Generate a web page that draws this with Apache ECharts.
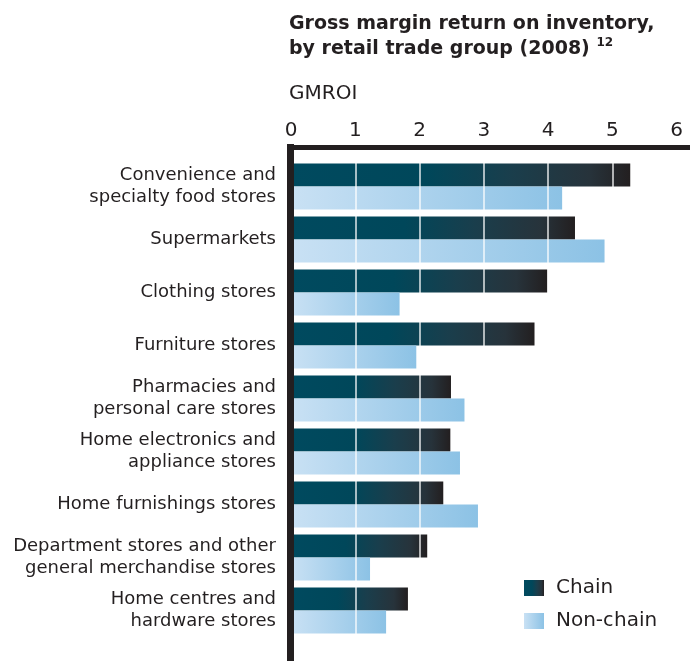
<!DOCTYPE html>
<html>
<head>
<meta charset="utf-8">
<script src="https://cdn.jsdelivr.net/npm/echarts@6/dist/echarts.min.js"></script>
<style>
  html, body { margin: 0; padding: 0; background: #fff; }
  #chart { width: 690px; height: 662px; }
</style>
</head>
<body>
<div id="chart"></div>
<script>
    // data (GMROI, 2008)
    var categories = [
        'Convenience and\nspecialty food stores',
        'Supermarkets',
        'Clothing stores',
        'Furniture stores',
        'Pharmacies and\npersonal care stores',
        'Home electronics and\nappliance stores',
        'Home furnishings stores',
        'Department stores and other\ngeneral merchandise stores',
        'Home centres and\nhardware stores'
    ];
    var chainValues    = [5.28, 4.42, 3.99, 3.79, 2.49, 2.48, 2.37, 2.12, 1.82];
    var nonChainValues = [4.22, 4.88, 1.69, 1.95, 2.70, 2.63, 2.91, 1.23, 1.48];
    var seriesNames = ['Chain', 'Non-chain'];

    var ink = '#231f20';
    var font = 'DejaVu Sans';

    var chainColor = new echarts.graphic.LinearGradient(0, 0, 1, 0, [
        {offset: 0, color: '#004a5f'},
        {offset: 0.4, color: '#00475a'},
        {offset: 0.65, color: '#1a3e4c'},
        {offset: 0.88, color: '#27333b'},
        {offset: 1, color: '#231f20'}
    ]);
    var nonChainColor = new echarts.graphic.LinearGradient(0, 0, 1, 0, [
        {offset: 0, color: '#c9e1f4'},
        {offset: 1, color: '#8cc2e5'}
    ]);

    var mychart = echarts.init(document.getElementById('chart'));
    mychart.setOption({
        animation: false,
        textStyle: {fontFamily: font, color: ink},
        title: [
            {
                text: 'Gross margin return on inventory,\nby retail trade group (2008) {sup|12}',
                left: 284,
                top: 7,
                textStyle: {
                    fontFamily: font,
                    fontWeight: 'bold',
                    fontSize: 19,
                    lineHeight: 25,
                    color: ink,
                    rich: {
                        sup: {fontSize: 12, fontWeight: 'bold', color: ink, verticalAlign: 'top', padding: [0, 0, 8, 0]}
                    }
                }
            },
            {
                text: 'GMROI',
                left: 284,
                top: 79,
                textStyle: {fontFamily: font, fontWeight: 'normal', fontSize: 20, color: ink}
            }
        ],
        legend: {
            orient: 'vertical',
            left: 519,
            top: 573,
            itemWidth: 20,
            itemHeight: 16,
            itemGap: 13,
            icon: 'rect',
            data: seriesNames,
            itemStyle: {borderWidth: 0},
            textStyle: {fontFamily: font, fontSize: 20, color: ink, padding: [0, 0, 0, 7]}
        },
        grid: {
            left: 291,
            right: 0,
            top: 160,
            bottom: 25
        },
        xAxis: {
            type: 'value',
            position: 'top',
            offset: 13,
            min: 0,
            max: 6.21,
            interval: 1,
            z: 5,
            axisLine: {show: true, lineStyle: {color: ink, width: 5}},
            axisTick: {show: false},
            axisLabel: {
                showMaxLabel: false,
                fontFamily: font,
                fontSize: 20,
                color: ink,
                margin: 6,
                formatter: function (v) { return Number.isInteger(v) ? v : ''; }
            },
            splitLine: {show: true, lineStyle: {color: 'rgba(255,255,255,0.65)', width: 2}}
        },
        yAxis: {
            type: 'category',
            inverse: true,
            data: categories,
            axisLine: {show: false},
            axisTick: {show: false},
            axisLabel: {
                fontFamily: font,
                fontSize: 18,
                lineHeight: 22,
                color: ink,
                margin: 15,
                align: 'right'
            }
        },
        // vertical axis rule runs past the plot, so it is drawn as a plain shape
        graphic: [
            {
                type: 'rect',
                left: 287,
                top: 144,
                shape: {width: 7, height: 517},
                style: {fill: ink},
                z: 10
            }
        ],
        series: [
            {
                name: seriesNames[0],
                type: 'bar',
                data: chainValues,
                barWidth: 23,
                barGap: '0%',
                itemStyle: {color: chainColor}
            },
            {
                name: seriesNames[1],
                type: 'bar',
                data: nonChainValues,
                barWidth: 23,
                barGap: '0%',
                itemStyle: {color: nonChainColor}
            }
        ]
    });
</script>
</body>
</html>
